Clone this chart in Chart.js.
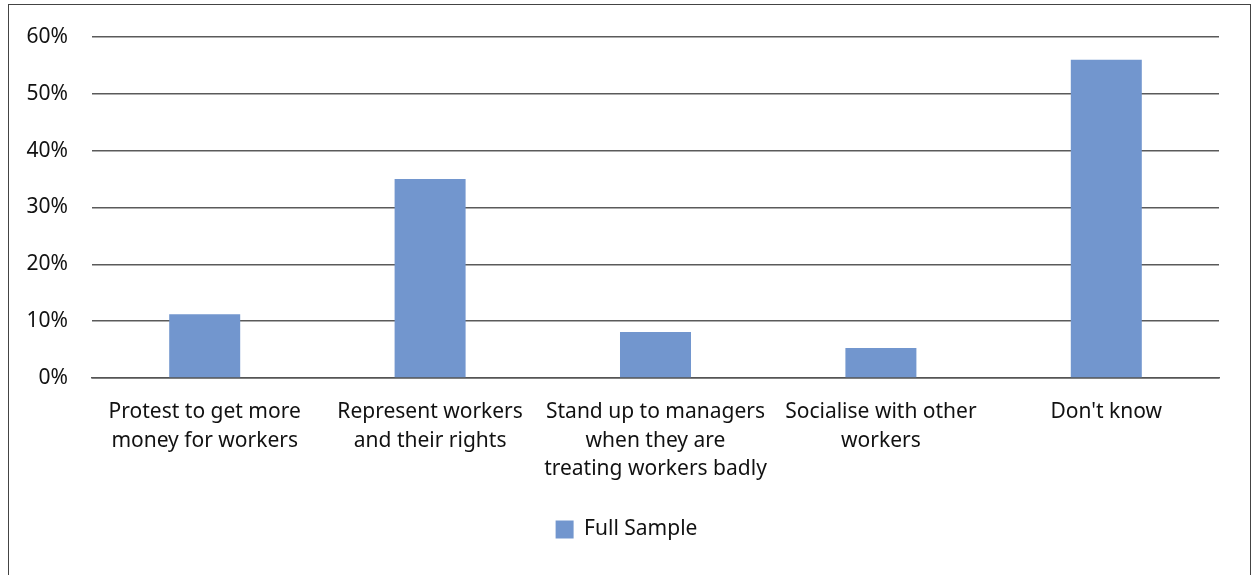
<!DOCTYPE html>
<html>
<head>
<meta charset="utf-8">
<script src="https://cdn.jsdelivr.net/npm/chart.js@4"></script>
<style>
  html, body { margin: 0; padding: 0; background: #fff; overflow: hidden; }
  #frame { position: absolute; left: 8px; top: 4px; width: 1243px; height: 600px; border: 1.5px solid #444; box-sizing: border-box; }
  #myChart { position: absolute; left: 0; top: 0; }
</style>
</head>
<body>
<div id="frame"></div>
<canvas id="myChart" width="1253" height="575"></canvas>
<script>
const categories = [
  ["Protest to get more", "money for workers"],
  ["Represent workers", "and their rights"],
  ["Stand up to managers", "when they are", "treating workers badly"],
  ["Socialise with other", "workers"],
  "Don't know",
];
const full_sample = [11.2, 35, 8.1, 5.3, 56];
const y_ticks = [0, 10, 20, 30, 40, 50, 60];
const bar_color = "rgb(114, 150, 206)";
const font_family = "'Noto Sans', 'Open Sans', sans-serif";

Chart.defaults.font.family = font_family;
Chart.defaults.color = "#111";

// legend sits centred on the whole canvas, not just the plot area
const centre_legend = {
  id: "centre_legend",
  afterLayout: (chart) => {
    const lg = chart.legend;
    if (!lg) return;
    lg.left = 0;
    lg.right = chart.width;
  },
};

const ctx = document.getElementById("myChart").getContext("2d");
const myChart = new Chart(ctx, {
  type: "bar",
  data: {
    labels: categories,
    datasets: [
      {
        label: "Full Sample",
        data: full_sample,
        backgroundColor: bar_color,
        borderWidth: 0,
        barPercentage: 0.63,
        categoryPercentage: 0.5,
      },
    ],
  },
  plugins: [centre_legend],
  options: {
    responsive: false,
    animation: false,
    layout: { padding: { top: 37, right: 34, bottom: 25, left: 0 } },
    plugins: {
      legend: {
        position: "bottom",
        labels: {
          boxWidth: 18,
          boxHeight: 18,
          padding: 10,
          font: { size: 21 },
          color: "#111",
        },
      },
      tooltip: { enabled: false },
    },
    scales: {
      x: {
        grid: { display: false, drawTicks: false },
        border: { display: true, color: "#555", width: 1.5 },
        ticks: {
          padding: 20,
          maxRotation: 0,
          autoSkip: false,
          font: { size: 21, lineHeight: 1.36 },
          color: "#111",
        },
        afterFit: (scale) => { scale.height = 131; },
      },
      y: {
        min: 0,
        max: 60,
        afterBuildTicks: (scale) => { scale.ticks = y_ticks.map((v) => ({ value: v })); },
        grid: { color: "#5a5a5a", lineWidth: 1.5, drawTicks: false },
        border: { display: false },
        ticks: {
          padding: 24,
          font: { size: 21 },
          color: "#111",
          callback: (v) => v + "%",
        },
        afterFit: (scale) => { scale.width = 92; },
      },
    },
  },
});
</script>
</body>
</html>
